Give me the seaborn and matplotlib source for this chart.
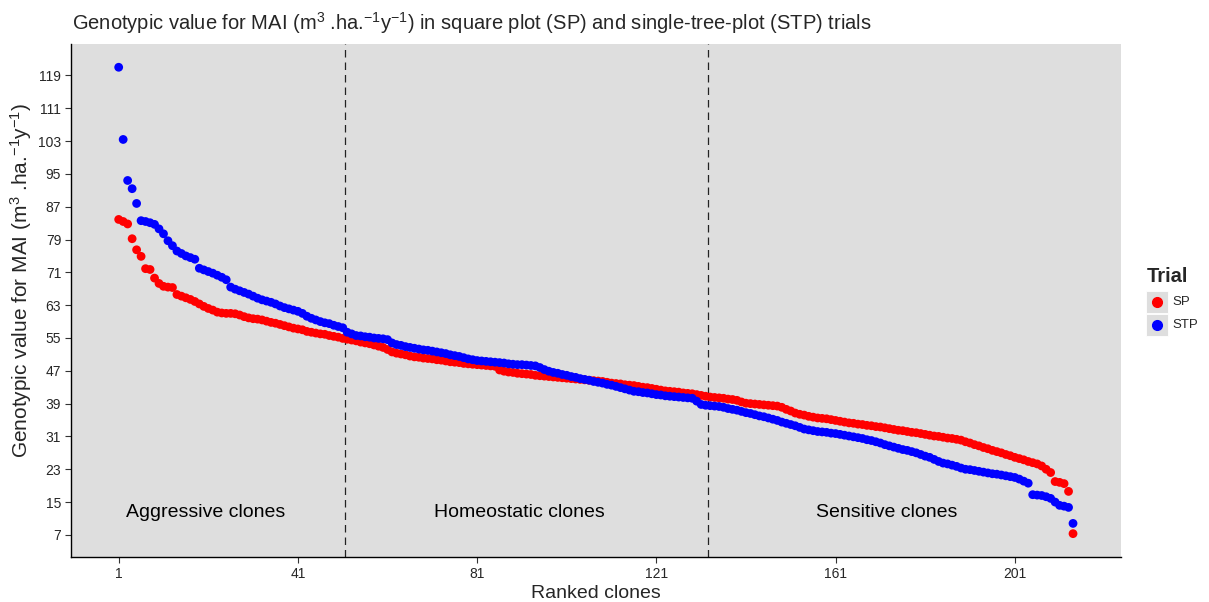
import numpy as np
import pandas as pd
import matplotlib
matplotlib.use("Agg")
import matplotlib.pyplot as plt
import seaborn as sns
from matplotlib.patches import Rectangle

# genotypic values, ranked (highest first)
stp = [121.0, 103.4, 93.4, 91.4, 87.8, 83.6, 83.4, 83.1, 82.7, 81.6,
       80.4, 78.7, 77.5, 76.2, 75.6, 75.0, 74.6, 74.2, 72.0, 71.6,
       71.2, 70.8, 70.3, 69.8, 69.2, 67.4, 66.9, 66.5, 66.1, 65.7,
       65.2, 64.7, 64.3, 64.0, 63.7, 63.3, 62.8, 62.4, 62.1, 61.8,
       61.5, 61.0, 60.3, 59.8, 59.4, 59.0, 58.7, 58.5, 58.1, 57.8,
       57.5, 56.4, 56.0, 55.6, 55.5, 55.3, 55.2, 55.0, 54.9, 54.8,
       54.6, 53.8, 53.4, 53.2, 52.9, 52.7, 52.5, 52.3, 52.1, 52.0,
       51.8, 51.6, 51.4, 51.2, 50.9, 50.7, 50.5, 50.2, 49.9, 49.7,
       49.5, 49.4, 49.3, 49.2, 49.1, 49.0, 48.9, 48.7, 48.6, 48.5,
       48.5, 48.4, 48.3, 48.2, 47.8, 47.3, 46.9, 46.6, 46.4, 46.1,
       45.9, 45.6, 45.4, 45.1, 44.9, 44.7, 44.4, 44.2, 44.0, 43.7,
       43.5, 43.2, 42.9, 42.6, 42.3, 42.0, 41.9, 41.7, 41.6, 41.4,
       41.2, 41.1, 40.9, 40.8, 40.7, 40.6, 40.5, 40.4, 40.3, 39.6,
       38.8, 38.6, 38.5, 38.4, 38.3, 38.1, 37.8, 37.6, 37.4, 37.1,
       36.8, 36.6, 36.3, 36.0, 35.8, 35.5, 35.2, 34.9, 34.5, 34.2,
       33.9, 33.6, 33.2, 32.8, 32.6, 32.4, 32.2, 32.1, 32.0, 31.8,
       31.7, 31.5, 31.3, 31.1, 30.9, 30.7, 30.5, 30.2, 30.0, 29.7,
       29.4, 29.0, 28.7, 28.4, 28.1, 27.8, 27.6, 27.3, 27.0, 26.6,
       26.2, 25.9, 25.4, 24.9, 24.5, 24.3, 24.0, 23.7, 23.3, 23.0,
       22.9, 22.7, 22.5, 22.3, 22.1, 21.9, 21.8, 21.6, 21.4, 21.2,
       21.0, 20.6, 20.1, 19.6, 16.8, 16.7, 16.6, 16.3, 15.9, 15.0,
       14.2, 14.0, 13.7, 9.8]

sp = [83.9, 83.4, 82.8, 79.2, 76.5, 74.9, 71.9, 71.7, 69.6, 68.3,
      67.6, 67.4, 67.3, 65.6, 65.2, 64.8, 64.4, 63.9, 63.3, 62.7,
      62.2, 61.8, 61.3, 61.1, 61.0, 61.0, 60.9, 60.6, 60.2, 59.9,
      59.7, 59.6, 59.4, 59.1, 58.8, 58.6, 58.3, 58.0, 57.7, 57.4,
      57.2, 57.0, 56.6, 56.4, 56.2, 56.0, 55.9, 55.6, 55.4, 55.2,
      54.9, 54.7, 54.5, 54.3, 54.0, 53.8, 53.6, 53.3, 53.0, 52.7,
      52.2, 51.6, 51.3, 51.1, 50.9, 50.6, 50.4, 50.3, 50.1, 50.0,
      49.9, 49.7, 49.6, 49.4, 49.2, 49.1, 49.0, 48.8, 48.7, 48.6,
      48.5, 48.4, 48.3, 48.2, 48.1, 47.2, 46.9, 46.7, 46.6, 46.4,
      46.3, 46.2, 46.1, 45.9, 45.8, 45.7, 45.6, 45.5, 45.4, 45.3,
      45.2, 45.1, 45.0, 44.9, 44.8, 44.7, 44.6, 44.5, 44.4, 44.2,
      44.0, 43.9, 43.8, 43.6, 43.5, 43.4, 43.2, 43.0, 42.9, 42.7,
      42.5, 42.3, 42.1, 42.0, 41.9, 41.8, 41.6, 41.5, 41.4, 41.2,
      41.0, 40.8, 40.6, 40.5, 40.4, 40.3, 40.1, 40.0, 39.8, 39.4,
      39.1, 39.0, 38.9, 38.8, 38.7, 38.6, 38.5, 38.4, 38.1, 37.6,
      37.2, 36.7, 36.4, 36.2, 35.9, 35.7, 35.5, 35.4, 35.3, 35.1,
      34.9, 34.7, 34.5, 34.3, 34.2, 34.0, 33.9, 33.7, 33.6, 33.4,
      33.3, 33.1, 32.9, 32.7, 32.5, 32.4, 32.2, 32.0, 31.9, 31.7,
      31.5, 31.3, 31.1, 31.0, 30.8, 30.6, 30.5, 30.3, 30.1, 29.7,
      29.4, 29.0, 28.7, 28.3, 28.0, 27.6, 27.3, 27.0, 26.6, 26.3,
      25.9, 25.6, 25.3, 24.9, 24.6, 24.3, 23.8, 23.0, 22.2, 20.0,
      19.8, 19.5, 17.6, 7.3]

trials = ["SP", "STP"]
colors = {"SP": "#FF0000", "STP": "#0000FF"}
x_ticks = [1, 41, 81, 121, 161, 201]
y_ticks = list(range(7, 120, 8))
group_cuts = [51.5, 132.5]
group_labels = ["Aggressive clones", "Homeostatic clones", "Sensitive clones"]
group_label_x = [20.3, 90.4, 172.5]

n = len(sp)
df = pd.DataFrame({
    "rank": list(range(1, n + 1)) * 2,
    "value": sp + stp,
    "Trial": ["SP"] * n + ["STP"] * n,
})

sns.set_style("white")
plt.rcParams["font.family"] = ["Liberation Sans", "DejaVu Sans"]
plt.rcParams["mathtext.fontset"] = "custom"
plt.rcParams["mathtext.rm"] = "Liberation Sans"
plt.rcParams["mathtext.it"] = "Liberation Sans"

fig = plt.figure(figsize=(12.09, 6.02), dpi=100)
ax = fig.add_axes([0.0587, 0.0748, 0.8683, 0.8522])
ax.set_facecolor("#DEDEDE")

sns.scatterplot(data=df, x="rank", y="value", hue="Trial", hue_order=trials,
                palette=colors, s=40, linewidth=0, ax=ax, legend=False, zorder=3)

for c in group_cuts:
    ax.axvline(c, color="#222222", lw=0.9, ls=(0, (6, 4)), zorder=2)
for lab, xx in zip(group_labels, group_label_x):
    ax.text(xx, 12.5, lab, ha="center", va="center", fontsize=14, color="black")

span_x = n - 1
ax.set_xlim(1 - 0.05 * span_x, n + 0.05 * span_x)
lo, hi = min(sp + stp), max(sp + stp)
ax.set_ylim(lo - 0.05 * (hi - lo), hi + 0.05 * (hi - lo))
ax.set_xticks(x_ticks)
ax.set_yticks(y_ticks)
ax.tick_params(axis="both", bottom=True, left=True, length=4, width=0.8,
               color="#333333", labelsize=10, labelcolor="#262626",
               direction="out", pad=3)
for side in ["top", "right"]:
    ax.spines[side].set_visible(False)
for side in ["left", "bottom"]:
    ax.spines[side].set_color("black")
    ax.spines[side].set_linewidth(1.0)

ax.set_xlabel("Ranked clones", fontsize=14, labelpad=3)
ax.set_ylabel(r"Genotypic value for MAI (m$^{3}$ .ha.$^{-1}$y$^{-1}$)", fontsize=15)
ax.yaxis.set_label_coords(-0.035, 0.54)
fig.text(0.0595, 0.962,
         r"Genotypic value for MAI (m$^{3}$ .ha.$^{-1}$y$^{-1}$) in square plot (SP) and single-tree-plot (STP) trials",
         fontsize=14.5, ha="left", va="center")

# legend drawn ggplot-style: grey key boxes with a dot, label beside
fig.text(0.9487, 0.540, "Trial", fontsize=14.5, fontweight="bold", ha="left", va="center")
key_y = [0.4983, 0.460]
for t, ky in zip(trials, key_y):
    fig.patches.append(Rectangle((0.948, ky - 0.0185), 0.0182, 0.037,
                                 transform=fig.transFigure, facecolor="#DEDEDE",
                                 edgecolor="white", lw=0.6))
    fig.lines.append(plt.Line2D([0.9571], [ky], transform=fig.transFigure,
                                marker="o", ms=7, color=colors[t], lw=0))
    fig.text(0.9694, ky, t, fontsize=9.5, ha="left", va="center")

fig.savefig("out.png", dpi=100)
